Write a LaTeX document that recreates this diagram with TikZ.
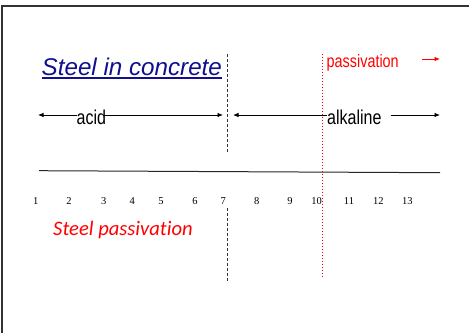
\documentclass[tikz,border=0pt]{standalone}
\usepackage{fontspec}
\usepackage{tikz}
\usetikzlibrary{arrows, arrows.meta, positioning, calc}

\newfontfamily\arialfont{Liberation Sans}
\newfontfamily\narrowfont[FakeStretch=0.8]{Liberation Sans}
\newfontfamily\calibrifont[Ligatures=NoCommon]{Carlito}
\newfontfamily\timesfont{Liberation Serif}
\definecolor{titleblue}{RGB}{16,16,140}
\definecolor{framegray}{RGB}{50,50,50}

\begin{document}
\begin{tikzpicture}[x=1pt,y=-1pt,>={Latex[length=5.5pt,width=4.5pt]},
  txt/.style={inner sep=0pt,anchor=base west},
  num/.style={inner sep=0pt,anchor=base,font=\timesfont\fontsize{10.5}{12}\selectfont},
  arr/.style={->,line width=0.8pt}]
\useasboundingbox (0,0) rectangle (469,333);
% frame
\draw[framegray,line width=2pt] (2,333) -- (2,6) -- (469,6);

\node[txt,font=\arialfont\itshape\fontsize{24.2}{27}\selectfont,text=titleblue] (title) at (41.5,75) {Steel in concrete};
\draw[titleblue,line width=1.5pt] ([yshift=-3pt]title.base west) -- ([yshift=-3pt]title.base east);
\node[txt,font=\narrowfont\fontsize{18}{20}\selectfont,text=red] (pas) at (326.5,67.5) {passivation};
\node[txt,font=\narrowfont\fontsize{20}{22}\selectfont] (acid) at (76.5,124) {acid};
\node[txt,font=\narrowfont\fontsize{20}{22}\selectfont] (alk) at (327,124) {alkaline};
\node[txt,font=\calibrifont\itshape\fontsize{20.6}{23}\selectfont,text=red] (stpas) at (53,235.5) {Steel passivation};

% arrows
\coordinate (acidL) at (38,115);
\coordinate (acidR) at (223,115);
\coordinate (alkL) at (233,115);
\coordinate (alkR) at (440,115);
\coordinate (pasA) at (422,59);
\coordinate (pasB) at (440,59);
\draw[arr] (acid.west |- acidL) -- (acidL);
\draw[arr] (acid.east |- acidR) ++(-3,0) -- (acidR);
\draw[arr] (alk.west |- alkL) -- (alkL);
\draw[arr] (alk.east |- alkR) ++(9,0) -- (alkR);
\draw[arr,red] (pasA) -- (pasB);

% pH axis
\coordinate (axL) at (39,170.7);
\coordinate (axR) at (440,172.7);
\draw[line width=1pt,black!85] (axL) -- (axR);
\foreach \n/\x in {1/35.7,2/69,3/103.7,4/132.3,5/161,6/195,7/223.3,8/256.7,9/290,10/316.7,11/349,12/378.3,13/407.3}
  \node[num] (n\n) at (\x,204.3) {\n};

% neutral and passivation limits
\coordinate (neuA) at (227,54);
\coordinate (neuB) at (227,152);
\coordinate (neuC) at (227,208);
\coordinate (neuD) at (227,281);
\draw[black!80,line width=0.7pt,dash pattern=on 3pt off 2pt] (neuA) -- (neuB);
\draw[black!80,line width=0.7pt,dash pattern=on 3pt off 2pt] (neuC) -- (neuD);
\coordinate (limA) at (322.3,53.5);
\coordinate (limB) at (322.3,276.5);
\draw[red,line width=0.5pt,dash pattern=on 1.5pt off 1.5pt] (limA) -- (limB);
\end{tikzpicture}
\end{document}
